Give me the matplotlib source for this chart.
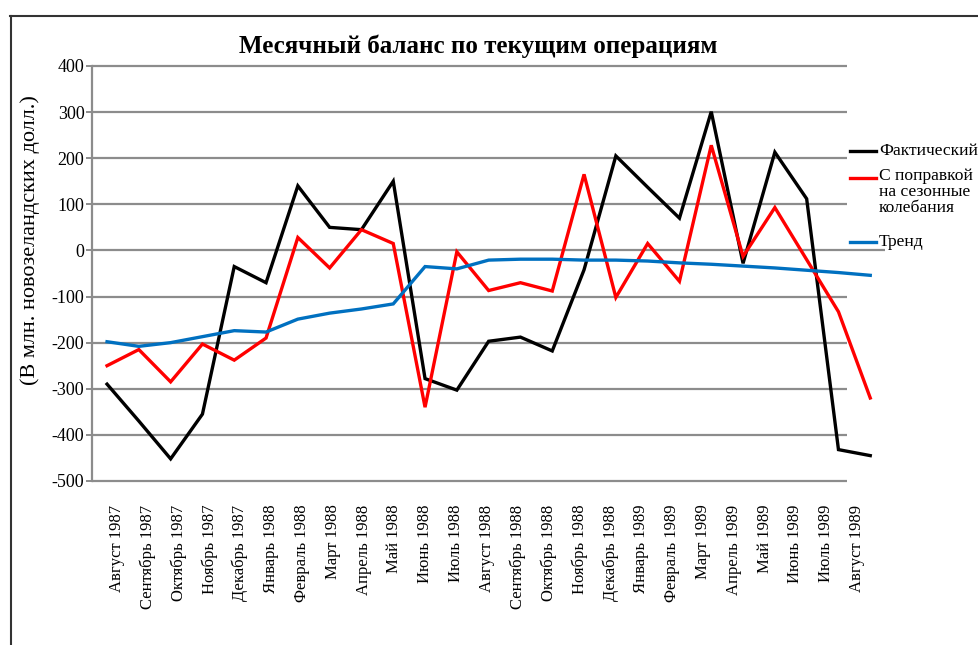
import numpy as np
import matplotlib
matplotlib.use('Agg')
import matplotlib.pyplot as plt
from matplotlib.lines import Line2D

# --- data (млн. новозеландских долл.) ---
months = ['Август 1987', 'Сентябрь 1987', 'Октябрь 1987', 'Ноябрь 1987', 'Декабрь 1987',
          'Январь 1988', 'Февраль 1988', 'Март 1988', 'Апрель 1988', 'Май 1988',
          'Июнь 1988', 'Июль 1988', 'Август 1988', 'Сентябрь 1988', 'Октябрь 1988',
          'Ноябрь 1988', 'Декабрь 1988', 'Январь 1989', 'Февраль 1989', 'Март 1989',
          'Апрель 1989', 'Май 1989', 'Июнь 1989', 'Июль 1989', 'Август 1989']

actual = [-290, -370, -452, -355, -35, -70, 140, 50, 45, 150,
          -278, -303, -197, -188, -218, -42, 205, 137, 70, 301,
          -28, 213, 112, -432, -445]

seasonal = [-250, -215, -285, -203, -238, -190, 28, -38, 45, 15,
            -340, -3, -87, -70, -88, 165, -102, 15, -67, 228,
            -13, 93, -20, -133, -320]

trend = [-198, -208, -200, -187, -174, -177, -149, -136, -127, -116,
         -35, -40, -21, -19, -19, -21, -21, -23, -27, -30,
         -34, -38, -43, -48, -54]

series_labels = ['Фактический', 'С поправкой\nна сезонные\nколебания', 'Тренд']
series_colors = ['#000000', '#FF0000', '#0070C0']
yticks = [400, 300, 200, 100, 0, -100, -200, -300, -400, -500]

plt.rcParams['font.family'] = ['Liberation Serif', 'DejaVu Serif']
plt.rcParams['axes.unicode_minus'] = False

fig = plt.figure(figsize=(9.79, 6.45), dpi=100)
ax = fig.add_axes([0.094, 0.2543, 0.805, 0.6434])

x = np.arange(len(months))
for vals, col in zip([actual, seasonal, trend], series_colors):
    ax.plot(x, vals, color=col, linewidth=2.4, solid_joinstyle='miter', zorder=3)

ax.set_xlim(-0.472, 24.31)
ax.set_ylim(-500, 400)

# gridlines stop short of the right end of the lines, like in the original
grid_gray = '#8C8C8C'
for yv in yticks:
    end = 1.006 if yv == 0 else 0.958
    ax.hlines(yv, 0, end, transform=ax.get_yaxis_transform(), color=grid_gray,
              linewidth=1.6, zorder=1, clip_on=False)

for s in ['top', 'right', 'bottom']:
    ax.spines[s].set_visible(False)
ax.spines['left'].set_color(grid_gray)
ax.spines['left'].set_linewidth(1.6)

ax.set_yticks(yticks)
ax.tick_params(axis='y', colors=grid_gray, length=4.5, width=1.4, pad=1,
               labelcolor='black', labelsize=13)

# category labels are spaced a bit tighter than the plotted points in the original
ax.set_xticks(x * 0.97 + 0.305)
ax.set_xticklabels(months, rotation=90, fontsize=12)
ax.tick_params(axis='x', length=0, pad=17)

ax.set_ylabel('(В млн. новозеландских долл.)', fontsize=16)
ax.yaxis.set_label_coords(-0.066, 0.58)

fig.text(0.488, 0.9287, 'Месячный баланс по текущим операциям', ha='center', va='center',
         fontsize=18, fontweight='bold')

# legend drawn by hand so the red handle sits on the first line of its label
leg_y = [1 - 151 / 645, 1 - 178 / 645, 1 - 242 / 645]
for lab, col, yy in zip(series_labels, series_colors, leg_y):
    fig.add_artist(Line2D([850 / 979, 876 / 979], [yy, yy], color=col, linewidth=2.4))
    fig.text(879 / 979, yy + 0.016 if '\n' in lab else yy, lab, ha='left',
             va='top' if '\n' in lab else 'center', fontsize=12.6, linespacing=1.02)

# outer frame (top and left edges visible)
frame_col = '#333333'
fig.add_artist(Line2D([10.5 / 979, 10.5 / 979], [1 - 16 / 645, 0], color=frame_col, linewidth=1.5))
fig.add_artist(Line2D([10 / 979, 1], [1 - 16 / 645, 1 - 16 / 645], color=frame_col, linewidth=1.5))

fig.savefig('out.png', dpi=100)
